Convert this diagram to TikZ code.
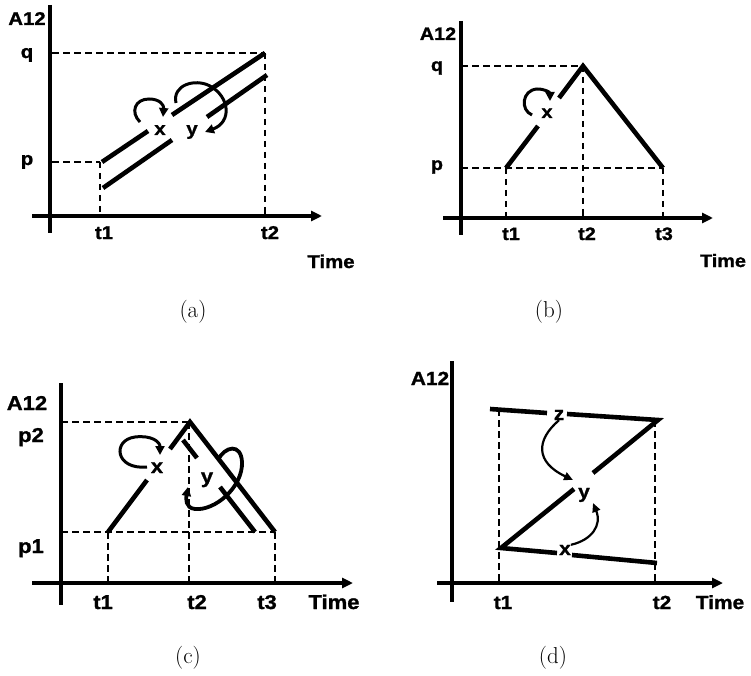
\documentclass[tikz,border=0pt]{standalone}
\usepackage{fontspec}
\newfontfamily\plotfont[FakeStretch=1.1, BoldFeatures={FakeBold=1.2}]{Liberation Sans}
\usetikzlibrary{arrows.meta}

\begin{document}
\begin{tikzpicture}[x=1pt, y=-1pt,
    lbl/.style={font=\plotfont\bfseries\fontsize{#1}{#1}\selectfont,
                inner sep=0pt, anchor=base},
    lbl/.default=18.5,
    caption/.style={font=\fontsize{23}{23}\selectfont, inner sep=0pt},
    xaxis/.style={line width=3.3pt, -{Triangle[length=11pt, width=10pt]}},
    yaxis/.style={line width=3.3pt},
    guide/.style={line width=2.8pt, dash pattern=on 6.5pt off 4.5pt},
    curve/.style={line width=4.6pt},
    turn/.style={line width=3pt, -{Triangle[length=9pt, width=9pt]}},
    hop/.style={line width=2.2pt, -{Triangle[length=9pt, width=8pt]}}]

    \useasboundingbox (0,0) rectangle (751,676);

    %% ── (a) ───────────────────────────────────────────────────────
    \draw[yaxis] (50,5) -- (50,233);
    \draw[xaxis] (32,216) -- (322,216);
    \draw[guide] (52,53) -- (265,53);
    \draw[guide] (265,53) -- (265,216);
    \draw[guide] (52,162) -- (100,162);
    \draw[guide] (100,162) -- (100,216);
    \draw[curve] (102,162) -- (148,131);
    \draw[curve] (172,115) -- (265,53);
    \draw[curve] (103,188) -- (172,140);
    \draw[curve] (207,117) -- (267,75);

    \node[lbl] (aA12)  at (27,25)   {A12};
    \node[lbl] (aq)    at (27,58)   {q};
    \node[lbl] (ap)    at (27,165)  {p};
    \node[lbl] (at1)   at (104,239) {t1};
    \node[lbl] (at2)   at (270,239) {t2};
    \node[lbl] (atime) at (331,268) {Time};
    \node[lbl] (ax)    at (160,135) {x};
    \node[lbl] (ay)    at (192,135) {y};
    \node[caption] (acap) at (193,312) {(a)};

    \draw[turn] (140,122) .. controls (130,112) and (135,99) .. (149,99)
                          .. controls (160,99) and (164,105) .. (163,117);
    \draw[turn] (176,103) .. controls (172,85) and (195,78) .. (210,86)
                          .. controls (230,97) and (232,122) .. (205,132);

    %% ── (b) ───────────────────────────────────────────────────────
    \draw[yaxis] (461,21) -- (461,235);
    \draw[xaxis] (443,218) -- (713,218);
    \draw[guide] (461,66) -- (583,66);
    \draw[guide] (583,66) -- (583,218);
    \draw[guide] (461,168) -- (663,168);
    \draw[guide] (506,168) -- (506,218);
    \draw[guide] (663,168) -- (663,218);
    \draw[curve] (506,168) -- (538,126);
    \draw[curve] (559,98) -- (583,66) -- (663,168);

    \node[lbl=18] (bA12)  at (438,40)  {A12};
    \node[lbl=18] (bq)    at (437,71)  {q};
    \node[lbl=18] (bp)    at (437,170) {p};
    \node[lbl=18] (bt1)   at (511,240) {t1};
    \node[lbl=18] (bt2)   at (587,240) {t2};
    \node[lbl=18] (bt3)   at (664,240) {t3};
    \node[lbl=18] (btime) at (723,267) {Time};
    \node[lbl=18] (bx)    at (547,118) {x};
    \node[caption] (bcap) at (549,312) {(b)};

    \draw[turn] (532,115) .. controls (520,110) and (522,90) .. (537,89)
                          .. controls (546,89) and (550,93) .. (550,101);

    %% ── (c) ───────────────────────────────────────────────────────
    \draw[yaxis] (61,383) -- (61,605);
    \draw[xaxis] (32,583) -- (353,583);
    \draw[guide] (61,422) -- (190,422);
    \draw[guide] (189,422) -- (189,583);
    \draw[guide] (61,532) -- (275,532);
    \draw[guide] (108,532) -- (108,583);
    \draw[guide] (275,532) -- (275,583);
    \draw[curve] (108,532) -- (147,480);
    \draw[curve] (170,449) -- (190,422) -- (275,532);
    \draw[curve] (183,440) -- (197,458);
    \draw[curve] (220,487) -- (255,532);

    \node[lbl=20] (cA12)  at (27,410)  {A12};
    \node[lbl=20] (cp2)   at (31,442)  {p2};
    \node[lbl=20] (cp1)   at (31,553)  {p1};
    \node[lbl=20] (ct1)   at (103,609) {t1};
    \node[lbl=20] (ct2)   at (197,609) {t2};
    \node[lbl=20] (ct3)   at (267,609) {t3};
    \node[lbl=20] (ctime) at (334,609) {Time};
    \node[lbl=20] (cx)    at (157,473) {x};
    \node[lbl=20] (cy)    at (207,483) {y};
    \node[caption] (ccap) at (188,658) {(c)};

    \draw[turn] (147,467) .. controls (115,470) and (112,440) .. (135,437)
                          .. controls (152,435) and (160,442) .. (160,455);
    \draw[turn, line width=3.8pt]
                (218,460) .. controls (225,446) and (241,443) .. (242,462)
                          .. controls (243,487) and (215,511) .. (195,509)
                          .. controls (185,508) and (186,498) .. (188,487);

    %% ── (d) ───────────────────────────────────────────────────────
    \draw[yaxis] (452,361) -- (452,602);
    \draw[xaxis] (437,583) -- (723,583);
    \draw[guide] (499,409) -- (499,583);
    \draw[guide] (655,420) -- (655,583);
    \draw[curve] (490,409) -- (547,413);
    \draw[curve] (593,473) -- (658,420) -- (567,414);
    \draw[curve] (574,489) -- (501,548) -- (557,553);
    \draw[curve] (572,555) -- (657,563);

    \node[lbl=19] (dA12)  at (430,385) {A12};
    \node[lbl=19] (dz)    at (559,420) {z};
    \node[lbl=19] (dy)    at (584,498) {y};
    \node[lbl=19] (dx)    at (565,555) {x};
    \node[lbl=19] (dt1)   at (503,609) {t1};
    \node[lbl=19] (dt2)   at (662,609) {t2};
    \node[lbl=19] (dtime) at (720,609) {Time};
    \node[caption] (dcap) at (553,658) {(d)};

    \draw[hop] (dz.south) .. controls (536,440) and (535,462) .. (573,480);
    \draw[hop] (dx.north east) .. controls (592,540) and (602,525) .. (593,503);

\end{tikzpicture}
\end{document}
